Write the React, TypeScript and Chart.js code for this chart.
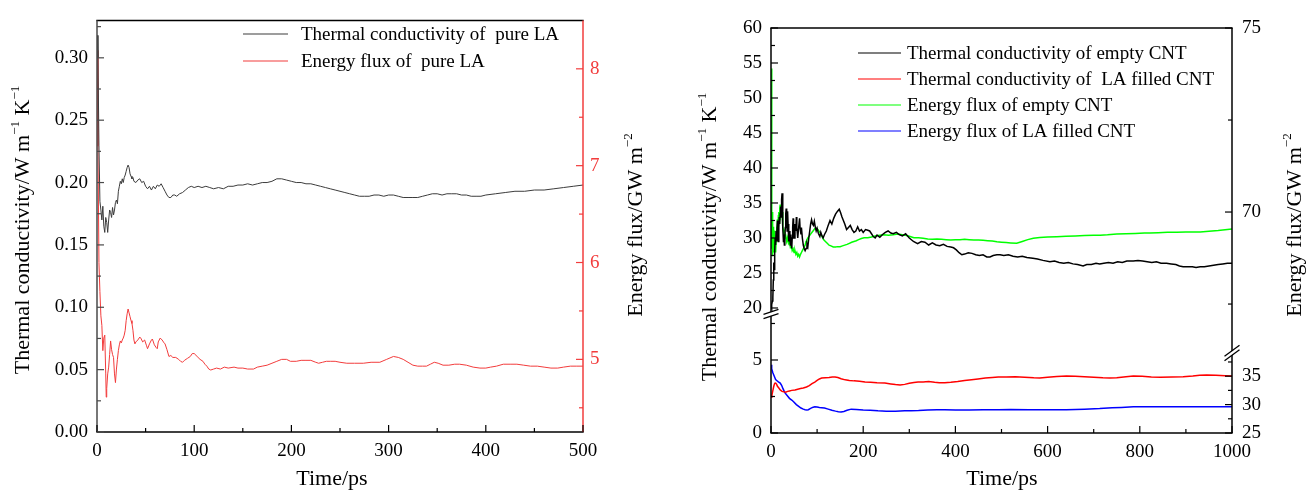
import React, { useEffect, useRef } from 'react';
import { Chart, registerables } from 'chart.js';
Chart.register(...registerables);

const FONT = '"Liberation Serif", "Times New Roman", serif';

// ---------- left panel: pure LA ----------
const PURE_LA_K: [number, number][] = [
  [0.5,0.318],[1,0.300],[2,0.230],[3,0.185],[4,0.178],[5,0.170],[6,0.181],[7,0.165],[8,0.160],[9,0.172],[10,0.168],[11,0.160],[12,0.170],[13,0.178],[14,0.176],[15,0.172],[16,0.180],[17,0.174],[18,0.178],[19,0.184],[20,0.186],[21,0.183],[22,0.193],[23,0.197],[24,0.201],[25,0.199],[26,0.203],[27,0.200],[28,0.204],[29,0.206],[30,0.209],[31,0.212],[32,0.214],[33,0.212],[34,0.207],[35,0.205],[36,0.203],[37,0.204],[38,0.201],[40,0.200],[42,0.202],[44,0.203],[46,0.200],[48,0.201],[50,0.197],[52,0.195],[54,0.197],[56,0.194],[58,0.197],[60,0.195],[62,0.198],[64,0.197],[66,0.199],[68,0.196],[70,0.193],[72,0.190],[74,0.188],[76,0.188],[78,0.190],[80,0.190],[82,0.189],[85,0.191],[88,0.192],[91,0.194],[94,0.196],[97,0.197],[100,0.196],[104,0.197],[108,0.196],[112,0.197],[116,0.196],[120,0.195],[125,0.196],[130,0.195],[135,0.197],[140,0.197],[145,0.198],[150,0.198],[155,0.199],[160,0.198],[165,0.199],[170,0.200],[175,0.200],[180,0.201],[185,0.203],[190,0.203],[195,0.202],[200,0.201],[205,0.200],[210,0.200],[215,0.199],[220,0.199],[225,0.198],[230,0.197],[235,0.196],[240,0.195],[245,0.194],[250,0.193],[255,0.192],[260,0.191],[265,0.190],[270,0.189],[275,0.189],[280,0.189],[285,0.190],[290,0.190],[295,0.189],[300,0.190],[305,0.190],[310,0.189],[315,0.188],[320,0.188],[325,0.188],[330,0.188],[335,0.189],[340,0.190],[345,0.191],[350,0.191],[355,0.190],[360,0.191],[365,0.191],[370,0.191],[375,0.190],[380,0.190],[385,0.189],[390,0.189],[395,0.189],[400,0.190],[410,0.191],[420,0.192],[430,0.193],[440,0.193],[450,0.194],[460,0.194],[470,0.195],[480,0.196],[490,0.197],[500,0.198]
];
const PURE_LA_FLUX: [number, number][] = [
  [0.3,8.19],[1,7.2],[2,6.0],[3,5.7],[4,5.45],[5,5.35],[6,5.09],[7,5.22],[8,5.25],[9,4.85],[9.5,4.61],[10,4.7],[11,4.85],[12,4.92],[13,5.05],[14,5.19],[15,5.10],[16,5.05],[17,5.02],[18,4.85],[19,4.76],[20,4.9],[21,5.0],[22,5.09],[23,5.15],[24,5.19],[25,5.17],[26,5.2],[27,5.22],[28,5.25],[29,5.3],[30,5.4],[31,5.47],[32,5.52],[33,5.48],[34,5.44],[35,5.40],[36,5.37],[37,5.3],[38,5.2],[39,5.16],[40,5.18],[42,5.2],[44,5.23],[45,5.22],[47,5.18],[49,5.20],[51,5.14],[52,5.11],[54,5.16],[56,5.20],[57,5.21],[59,5.15],[61,5.12],[62,5.11],[63,5.18],[65,5.22],[67,5.20],[69,5.17],[70,5.16],[72,5.10],[74,5.03],[76,5.04],[78,5.02],[81,5.02],[84,5.00],[86,4.98],[88,4.97],[90,4.99],[93,5.01],[96,5.03],[98,5.06],[100,5.06],[103,5.03],[106,5.00],[109,4.98],[111,4.95],[113,4.93],[115,4.90],[117,4.89],[120,4.90],[123,4.91],[127,4.90],[131,4.92],[135,4.91],[141,4.92],[145,4.91],[150,4.91],[155,4.90],[161,4.90],[165,4.92],[170,4.93],[175,4.94],[180,4.96],[185,4.98],[190,5.00],[195,5.00],[199,4.98],[205,4.98],[210,4.99],[215,4.99],[220,4.99],[225,4.97],[228,4.96],[232,4.97],[236,4.98],[240,4.98],[245,4.98],[250,4.97],[257,4.96],[265,4.96],[274,4.96],[282,4.97],[291,4.97],[298,5.00],[305,5.03],[310,5.02],[315,5.00],[320,4.97],[325,4.94],[330,4.93],[335,4.93],[339,4.93],[343,4.95],[347,4.97],[351,4.96],[356,4.94],[362,4.94],[368,4.95],[373,4.95],[380,4.94],[387,4.92],[394,4.91],[400,4.91],[405,4.92],[411,4.93],[418,4.95],[425,4.95],[432,4.95],[439,4.94],[446,4.93],[453,4.93],[460,4.92],[467,4.91],[474,4.91],[480,4.92],[487,4.93],[493,4.93],[500,4.93]
];
const LEFT_X_TICKS = [0, 100, 200, 300, 400, 500];
const LEFT_X_MINOR = [50, 150, 250, 350, 450];
const LEFT_K_TICKS = [0, 0.05, 0.1, 0.15, 0.2, 0.25, 0.3];
const LEFT_K_MINOR = [0.025, 0.075, 0.125, 0.175, 0.225, 0.275, 0.325];
const LEFT_F_TICKS = [5, 6, 7, 8];
const LEFT_F_MINOR = [4.5, 5.5, 6.5, 7.5];

// ---------- right panel: CNT ----------
const EMPTY_CNT_K: [number, number][] = [
  [0,20.3],[1,20.0],[2,20.5],[3,21.0],[4,21.5],[5,24.0],[6,26.5],[7,25.5],[8,28.0],[9,30.0],[10,29.0],[11,31.0],[12,29.5],[13,30.5],[14,32.5],[15,30.0],[16,29.5],[17,31.5],[18,33.0],[19,32.0],[20,33.5],[21,34.5],[22,33.0],[23,35.5],[24,36.4],[25,34.0],[26,31.5],[27,29.5],[28,30.5],[29,29.0],[30,30.0],[31,31.5],[32,33.5],[33,34.2],[34,33.0],[35,31.0],[36,33.8],[37,32.0],[38,30.5],[39,29.5],[40,31.0],[41,30.0],[42,29.0],[43,30.5],[44,29.5],[45,28.5],[46,30.0],[47,31.5],[48,32.8],[49,31.5],[50,30.0],[52,32.0],[54,31.0],[55,33.0],[56,31.5],[58,30.0],[60,31.5],[62,32.8],[63,31.5],[65,30.5],[66,31.5],[68,30.0],[70,29.0],[72,28.5],[74,28.2],[76,28.5],[78,29.2],[80,28.8],[82,30.0],[84,31.0],[86,32.0],[88,32.6],[90,32.0],[92,31.8],[94,32.4],[96,31.6],[98,31.0],[100,31.4],[103,30.6],[106,30.2],[108,30.8],[110,30.4],[113,30.0],[116,30.5],[120,31.0],[124,31.8],[128,32.5],[132,32.0],[136,32.8],[140,33.4],[144,33.8],[148,34.1],[151,33.6],[154,33.0],[157,32.5],[160,32.0],[164,31.2],[168,31.5],[172,31.8],[176,31.2],[180,30.8],[184,31.0],[188,31.6],[192,31.0],[196,31.2],[200,30.8],[205,31.2],[210,31.1],[214,31.0],[218,30.6],[222,30.2],[226,30.0],[230,30.4],[236,30.1],[242,30.5],[248,30.8],[254,31.0],[260,30.7],[265,30.6],[272,30.8],[278,30.5],[285,30.3],[292,30.6],[300,30.0],[309,29.5],[318,29.2],[326,29.5],[334,29.4],[342,29.0],[350,29.3],[358,29.0],[366,28.9],[374,29.1],[382,28.8],[390,28.7],[396,28.6],[402,28.3],[408,27.9],[414,27.6],[420,27.7],[428,27.9],[436,27.8],[444,27.6],[452,27.5],[460,27.6],[468,27.3],[475,27.3],[482,27.5],[490,27.6],[497,27.6],[505,27.5],[515,27.6],[525,27.4],[535,27.3],[545,27.4],[555,27.2],[568,27.1],[578,27.0],[590,26.8],[605,26.6],[615,26.7],[625,26.5],[635,26.4],[645,26.5],[655,26.3],[665,26.2],[677,26.0],[685,26.2],[695,26.2],[705,26.4],[713,26.3],[722,26.4],[732,26.5],[742,26.4],[752,26.6],[762,26.5],[772,26.7],[786,26.7],[796,26.8],[806,26.7],[816,26.6],[826,26.5],[836,26.6],[846,26.4],[858,26.4],[868,26.3],[878,26.2],[886,26.0],[894,25.9],[904,25.9],[914,25.9],[922,25.8],[931,25.9],[940,25.9],[950,26.0],[960,26.1],[970,26.2],[980,26.3],[990,26.4],[1000,26.4]
];
const LA_CNT_K: [number, number][] = [
  [0,2.47],[2,2.6],[4,2.9],[6,3.2],[8,3.4],[10,3.42],[12,3.35],[14,3.2],[17,3.08],[20,2.95],[24,2.85],[28,2.82],[32,2.8],[36,2.85],[40,2.88],[45,2.92],[52,2.95],[58,3.0],[64,3.05],[70,3.08],[77,3.15],[83,3.25],[89,3.38],[95,3.49],[100,3.6],[105,3.7],[110,3.76],[118,3.78],[126,3.8],[133,3.83],[139,3.84],[145,3.80],[152,3.72],[161,3.64],[170,3.6],[180,3.57],[192,3.55],[204,3.5],[216,3.47],[230,3.44],[247,3.42],[260,3.36],[270,3.32],[280,3.29],[290,3.33],[300,3.4],[310,3.46],[319,3.49],[330,3.5],[342,3.52],[355,3.47],[365,3.44],[377,3.44],[390,3.47],[405,3.52],[420,3.6],[435,3.65],[449,3.7],[465,3.76],[480,3.8],[493,3.83],[510,3.84],[530,3.85],[550,3.82],[570,3.78],[583,3.77],[600,3.82],[620,3.87],[641,3.9],[660,3.88],[680,3.86],[700,3.82],[720,3.78],[735,3.77],[750,3.78],[770,3.85],[786,3.9],[805,3.88],[825,3.84],[845,3.82],[870,3.83],[894,3.85],[915,3.9],[930,3.95],[945,3.97],[965,3.95],[985,3.92],[1000,3.9]
];
const EMPTY_CNT_FLUX: [number, number][] = [
  [0.8,73.9],[1.2,72.0],[1.6,70.5],[2,69.0],[2.5,70.0],[3,68.8],[3.5,69.8],[4,69.2],[4.5,69.6],[5,68.9],[5.5,69.4],[6,69.1],[7,69.5],[8,69.0],[9,69.3],[10,68.9],[11,69.2],[12,69.6],[13,69.4],[14,69.8],[15,69.6],[16,69.9],[17,70.0],[18,69.8],[19,70.1],[20,70.2],[21,70.0],[22,70.15],[23,69.9],[24,70.0],[25,69.7],[26,69.6],[27,69.5],[28,69.4],[29,69.45],[30,69.3],[32,69.35],[34,69.2],[36,69.3],[38,69.15],[40,69.2],[42,69.05],[44,69.1],[46,68.95],[48,69.0],[50,68.9],[52,68.95],[54,68.85],[56,68.9],[58,68.8],[60,68.85],[62,68.78],[64,68.85],[66,68.9],[68,68.95],[70,69.0],[72,69.05],[74,69.1],[76,69.2],[78,69.25],[80,69.3],[83,69.35],[86,69.4],[89,69.45],[92,69.5],[95,69.55],[98,69.56],[100,69.55],[103,69.5],[106,69.45],[110,69.35],[114,69.25],[118,69.2],[122,69.15],[126,69.1],[130,69.08],[135,69.05],[140,69.05],[145,69.06],[150,69.06],[155,69.08],[160,69.1],[165,69.12],[170,69.15],[175,69.18],[180,69.2],[185,69.22],[190,69.25],[196,69.28],[202,69.3],[210,69.3],[218,69.32],[226,69.35],[236,69.37],[245,69.38],[255,69.37],[265,69.38],[275,69.4],[285,69.38],[294,69.36],[300,69.34],[310,69.3],[320,69.3],[330,69.29],[340,69.27],[350,69.26],[360,69.27],[370,69.26],[380,69.25],[390,69.24],[400,69.25],[410,69.25],[420,69.26],[430,69.25],[440,69.24],[450,69.24],[460,69.23],[470,69.22],[480,69.21],[490,69.19],[500,69.18],[510,69.17],[520,69.16],[533,69.15],[545,69.2],[557,69.25],[569,69.29],[583,69.31],[600,69.32],[620,69.33],[640,69.34],[660,69.35],[680,69.36],[700,69.37],[714,69.37],[730,69.38],[750,69.4],[770,69.41],[790,69.42],[810,69.43],[822,69.43],[840,69.44],[860,69.45],[880,69.45],[900,69.46],[920,69.46],[931,69.46],[950,69.48],[970,69.5],[985,69.52],[1000,69.54]
];
const LA_CNT_FLUX: [number, number][] = [
  [0,36.7],[1,37.0],[2,36.3],[4,35.6],[6,35.2],[8,34.8],[10,34.4],[13,34.2],[16,34.0],[20,33.8],[23,33.4],[26,32.8],[30,32.1],[35,31.6],[40,31.1],[45,30.8],[49,30.5],[55,30.0],[60,29.7],[65,29.4],[70,29.2],[74,29.1],[78,29.05],[81,29.1],[85,29.3],[90,29.5],[95,29.6],[100,29.58],[105,29.5],[110,29.45],[116,29.4],[124,29.2],[132,29.0],[140,28.85],[146,28.75],[152,28.7],[158,28.8],[165,29.0],[174,29.2],[185,29.15],[200,29.05],[215,29.0],[232,28.9],[250,28.85],[270,28.85],[290,28.9],[304,28.9],[320,28.95],[340,29.05],[360,29.1],[377,29.1],[400,29.05],[430,29.05],[460,29.1],[493,29.1],[520,29.15],[560,29.1],[600,29.1],[641,29.1],[680,29.2],[713,29.3],[740,29.45],[760,29.5],[786,29.6],[820,29.6],[860,29.6],[900,29.6],[931,29.6],[960,29.6],[1000,29.6]
];
const RIGHT_X_TICKS = [0, 200, 400, 600, 800, 1000];
const RIGHT_X_MINOR = [100, 300, 500, 700, 900];
const CNT_K_UP_TICKS = [20, 25, 30, 35, 40, 45, 50, 55, 60];
const CNT_K_UP_MINOR = [22.5, 27.5, 32.5, 37.5, 42.5, 47.5, 52.5, 57.5];
const CNT_K_LOW_TICKS = [0, 5];
const CNT_K_LOW_MINOR = [2.5, 7.5];
const CNT_F_UP_TICKS = [70, 75];
const CNT_F_UP_MINOR = [67.5, 72.5];
const CNT_F_LOW_TICKS = [25, 30, 35];
const CNT_F_LOW_MINOR = [27.5, 32.5, 37.5];

const toXY = (a: [number, number][]) => a.map(([x, y]) => ({ x, y }));

const decor = {
  id: 'decor',
  afterDraw(chart: any, _a: any, o: any) {
    const ctx = chart.ctx as CanvasRenderingContext2D;
    const ca = chart.chartArea;
    ctx.save();
    const f = o.frame;
    ctx.lineWidth = f.width;
    const line = (c: string, x1: number, y1: number, x2: number, y2: number) => {
      ctx.strokeStyle = c; ctx.beginPath(); ctx.moveTo(x1, y1); ctx.lineTo(x2, y2); ctx.stroke();
    };
    line(f.top, ca.left - 0.7, ca.top, ca.right + 0.7, ca.top);
    line(f.bottom, ca.left - 0.7, ca.bottom, ca.right + 0.7, ca.bottom);
    line(f.left, ca.left, ca.top, ca.left, ca.bottom);
    line(f.right, ca.right, ca.top, ca.right, ca.bottom);
    ctx.lineWidth = 1.2;
    for (const t of o.ticks) {
      const s = chart.scales[t.id];
      const mark = (v: number, len: number) => {
        const p = s.getPixelForValue(v);
        if (s.isHorizontal()) {
          if (p < ca.left - 1 || p > ca.right + 1) return;
          line(t.color, p, ca.bottom, p, ca.bottom - len);
        } else {
          if (p < s.top - 1 || p > s.bottom + 1) return;
          const left = s.position === 'left';
          const x0 = left ? ca.left : ca.right;
          line(t.color, x0, p, x0 + (left ? len : -len), p);
        }
      };
      t.major.forEach((v: number) => mark(v, 7));
      t.minor.forEach((v: number) => mark(v, 4));
    }
    for (const b of o.breaks || []) {
      const s = chart.scales[b.id];
      const y = s.bottom;
      const x = b.side === 'left' ? ca.left : ca.right;
      const h = b.slope; const g = 2.2; const w = 7.5;
      ctx.fillStyle = '#fff';
      ctx.beginPath();
      ctx.moveTo(x - w, y - g + h); ctx.lineTo(x + w, y - g - h);
      ctx.lineTo(x + w, y + g - h); ctx.lineTo(x - w, y + g + h); ctx.closePath();
      ctx.fill();
      ctx.lineWidth = 1.3;
      line('#000', x - w, y - g + h, x + w, y - g - h);
      line('#000', x - w, y + g + h, x + w, y + g - h);
    }
    const lg = o.legend;
    ctx.font = `${lg.size}px ${FONT}`;
    ctx.textBaseline = 'middle';
    ctx.textAlign = 'left';
    chart.data.datasets.forEach((d: any, i: number) => {
      const y = lg.y0 + i * lg.dy;
      ctx.lineWidth = 1.2;
      line(d.borderColor, lg.x1, y, lg.x2, y);
      ctx.fillStyle = '#000';
      ctx.fillText(d.label, lg.tx, y + 1);
    });
    for (const t of o.titles) {
      ctx.save();
      ctx.translate(t.x, t.y);
      ctx.rotate(t.rot || 0);
      ctx.fillStyle = '#000';
      ctx.textBaseline = 'middle';
      ctx.textAlign = 'left';
      let total = 0;
      const ws = t.parts.map((p: any) => {
        ctx.font = `${p.sup ? 13 : 22}px ${FONT}`;
        const w = ctx.measureText(p.t).width; total += w; return w;
      });
      let cx = -total / 2;
      t.parts.forEach((p: any, i: number) => {
        ctx.font = `${p.sup ? 13 : 22}px ${FONT}`;
        ctx.fillText(p.t, cx, p.sup ? -7 : 0);
        cx += ws[i];
      });
      ctx.restore();
    }
    ctx.restore();
  },
};

const tickFont = { family: FONT, size: 19 };

const xScale = (min: number, max: number, ticks: number[], h: number) => ({
  type: 'linear', position: 'bottom', min, max,
  grid: { display: false, drawTicks: false }, border: { display: false },
  ticks: { font: tickFont, color: '#000', padding: 8, autoSkip: false, maxRotation: 0, callback: (v: any) => String(v) },
  afterBuildTicks: (s: any) => { s.ticks = ticks.map((v) => ({ value: v })); },
  afterFit: (s: any) => { s.height = h; },
});

const yScale = (o: any) => ({
  type: 'linear', position: o.pos, min: o.min, max: o.max,
  grid: { display: false, drawTicks: false }, border: { display: false },
  ticks: { font: tickFont, color: o.color || '#000', padding: o.pad, autoSkip: false, callback: o.fmt || ((v: any) => String(v)) },
  afterBuildTicks: (s: any) => { s.ticks = o.ticks.map((v: number) => ({ value: v })); },
  afterFit: (s: any) => { s.width = o.w; },
  ...(o.extra || {}),
});

const RED_L = '#f23c3c';
const TITLE_K = [{ t: 'Thermal conductivity/W m' }, { t: '\u22121', sup: true }, { t: ' K' }, { t: '\u22121', sup: true }];
const TITLE_F = [{ t: 'Energy flux/GW m' }, { t: '\u22122', sup: true }];
const TITLE_T = [{ t: 'Time/ps' }];

function leftConfig(): any {
  return {
    type: 'line',
    data: {
      datasets: [
        { label: 'Thermal conductivity of  pure LA', data: toXY(PURE_LA_K), yAxisID: 'y', borderColor: '#3c3c3c', borderWidth: 1, pointRadius: 0, tension: 0 },
        { label: 'Energy flux of  pure LA', data: toXY(PURE_LA_FLUX), yAxisID: 'y1', borderColor: RED_L, borderWidth: 1, pointRadius: 0, tension: 0 },
      ],
    },
    options: {
      animation: false, responsive: false, devicePixelRatio: 1,
      layout: { padding: { top: 15, left: 0, right: 0, bottom: 0 } },
      plugins: {
        legend: { display: false }, tooltip: { enabled: false },
        decor: {
          frame: { width: 1.5, top: '#000', bottom: '#000', left: '#4a4a4a', right: RED_L },
          ticks: [
            { id: 'x', major: LEFT_X_TICKS, minor: LEFT_X_MINOR, color: '#000' },
            { id: 'y', major: LEFT_K_TICKS, minor: LEFT_K_MINOR, color: '#4a4a4a' },
            { id: 'y1', major: LEFT_F_TICKS, minor: LEFT_F_MINOR, color: RED_L },
          ],
          legend: { size: 19, x1: 243, x2: 288, tx: 301, y0: 34, dy: 27 },
          titles: [
            { x: 23, y: 230, rot: -Math.PI / 2, parts: TITLE_K },
            { x: 636, y: 225, rot: -Math.PI / 2, parts: TITLE_F },
            { x: 332, y: 479, rot: 0, parts: TITLE_T },
          ],
        },
      },
      scales: {
        x: xScale(0, 500, LEFT_X_TICKS, 61),
        y: yScale({ pos: 'left', min: 0, max: 0.33, ticks: LEFT_K_TICKS, w: 97, pad: 9, fmt: (v: any) => Number(v).toFixed(2) }),
        y1: yScale({ pos: 'right', min: 4.25, max: 8.5, ticks: LEFT_F_TICKS, w: 70, pad: 7, color: RED_L }),
      },
    },
    plugins: [decor],
  };
}

function rightConfig(): any {
  const lw = 1.5;
  return {
    type: 'line',
    data: {
      datasets: [
        { label: 'Thermal conductivity of empty CNT', data: toXY(EMPTY_CNT_K), yAxisID: 'yUL', borderColor: '#000000', borderWidth: lw, pointRadius: 0, tension: 0 },
        { label: 'Thermal conductivity of  LA filled CNT', data: toXY(LA_CNT_K), yAxisID: 'yLL', borderColor: '#ff0000', borderWidth: lw, pointRadius: 0, tension: 0 },
        { label: 'Energy flux of empty CNT', data: toXY(EMPTY_CNT_FLUX), yAxisID: 'yUR', borderColor: '#00ff00', borderWidth: lw, pointRadius: 0, tension: 0 },
        { label: 'Energy flux of LA filled CNT', data: toXY(LA_CNT_FLUX), yAxisID: 'yLR', borderColor: '#0000ff', borderWidth: lw, pointRadius: 0, tension: 0 },
      ],
    },
    options: {
      animation: false, responsive: false, devicePixelRatio: 1,
      layout: { padding: { top: 28, left: 0, right: 0, bottom: 0 } },
      plugins: {
        legend: { display: false }, tooltip: { enabled: false },
        decor: {
          frame: { width: 1.5, top: '#000', bottom: '#000', left: '#000', right: '#000' },
          ticks: [
            { id: 'x', major: RIGHT_X_TICKS, minor: RIGHT_X_MINOR, color: '#000' },
            { id: 'yUL', major: CNT_K_UP_TICKS, minor: CNT_K_UP_MINOR, color: '#000' },
            { id: 'yLL', major: CNT_K_LOW_TICKS, minor: CNT_K_LOW_MINOR, color: '#000' },
            { id: 'yUR', major: CNT_F_UP_TICKS, minor: CNT_F_UP_MINOR, color: '#000' },
            { id: 'yLR', major: CNT_F_LOW_TICKS, minor: CNT_F_LOW_MINOR, color: '#000' },
          ],
          breaks: [
            { id: 'yUL', side: 'left', slope: 2.5 },
            { id: 'yUR', side: 'right', slope: 5.5 },
          ],
          legend: { size: 19, x1: 205, x2: 248, tx: 254, y0: 53, dy: 26 },
          titles: [
            { x: 57, y: 237, rot: -Math.PI / 2, parts: TITLE_K },
            { x: 642, y: 225, rot: -Math.PI / 2, parts: TITLE_F },
            { x: 349, y: 479, rot: 0, parts: TITLE_T },
          ],
        },
      },
      scales: {
        x: xScale(0, 1000, RIGHT_X_TICKS, 60),
        yUL: yScale({ pos: 'left', min: 19.14, max: 60, ticks: CNT_K_UP_TICKS, w: 118, pad: 9, extra: { stack: 'L', stackWeight: 286, weight: 2 } }),
        yLL: yScale({ pos: 'left', min: 0, max: 8.15, ticks: CNT_K_LOW_TICKS, w: 118, pad: 9, extra: { stack: 'L', stackWeight: 119, weight: 1 } }),
        yUR: yScale({ pos: 'right', min: 66.17, max: 75, ticks: CNT_F_UP_TICKS, w: 74, pad: 10, extra: { stack: 'R', stackWeight: 325, weight: 1 } }),
        yLR: yScale({ pos: 'right', min: 25, max: 39.08, ticks: CNT_F_LOW_TICKS, w: 74, pad: 10, extra: { stack: 'R', stackWeight: 80, weight: 2 } }),
      },
    },
    plugins: [decor],
  };
}

export default function App() {
  const c1 = useRef<HTMLCanvasElement>(null);
  const c2 = useRef<HTMLCanvasElement>(null);
  useEffect(() => {
    const a = new Chart(c1.current as HTMLCanvasElement, leftConfig());
    const b = new Chart(c2.current as HTMLCanvasElement, rightConfig());
    return () => { a.destroy(); b.destroy(); };
  }, []);
  return (
    <div style={{ position: 'absolute', left: 0, top: 0, width: 1306, height: 493, background: '#fff' }}>
      <canvas ref={c1} width={653} height={493} style={{ position: 'absolute', left: 0, top: 0, width: 653, height: 493 }} />
      <canvas ref={c2} width={653} height={493} style={{ position: 'absolute', left: 653, top: 0, width: 653, height: 493 }} />
    </div>
  );
}
